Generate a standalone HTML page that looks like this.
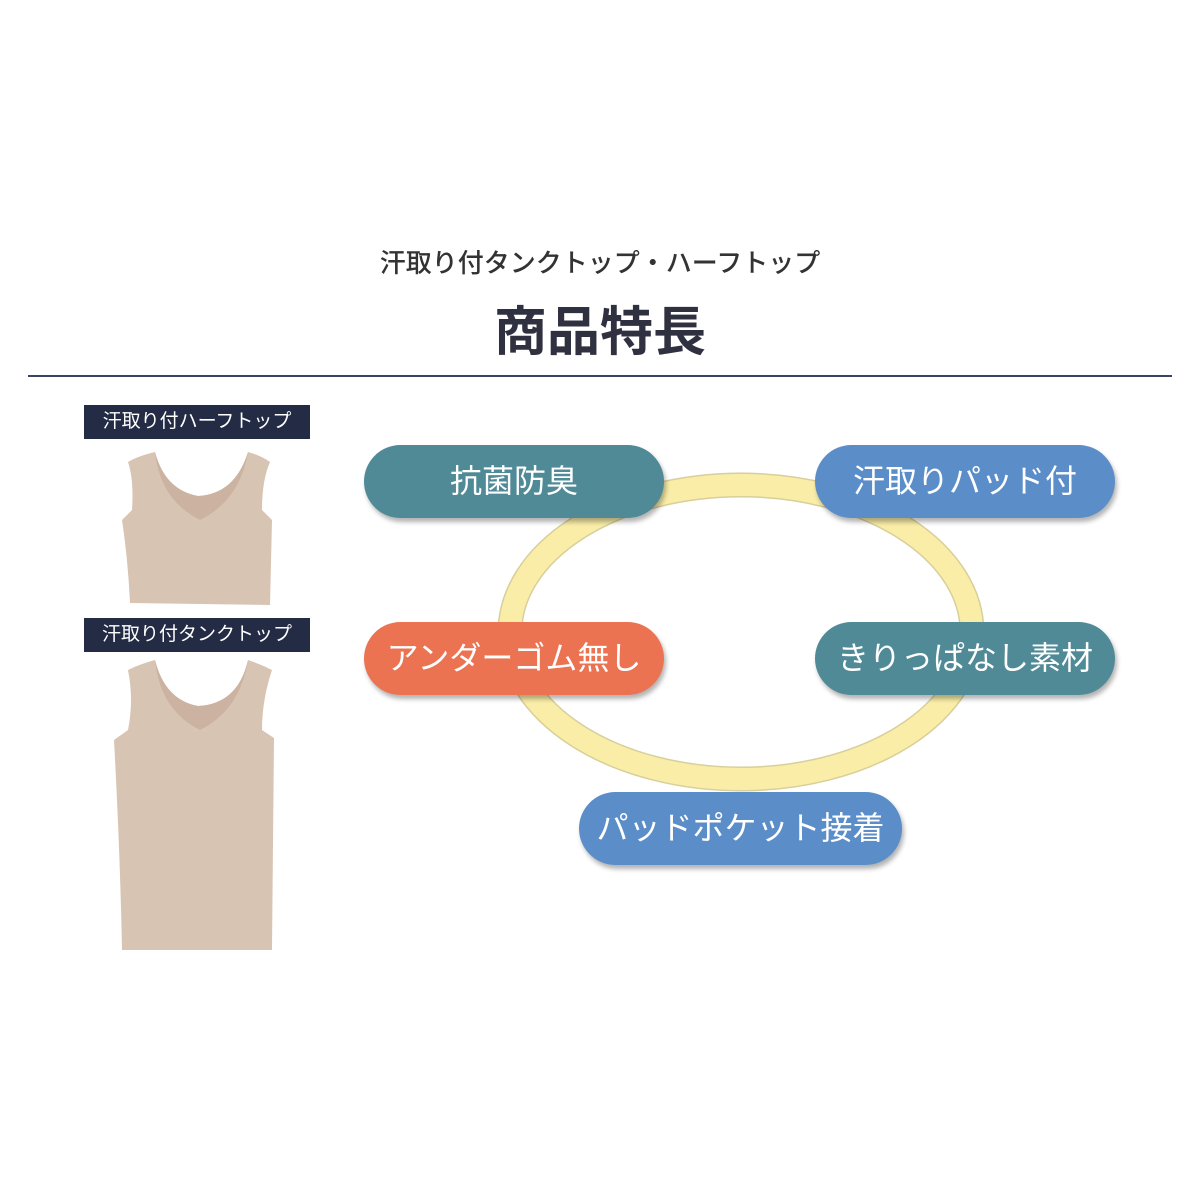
<!DOCTYPE html>
<html><head><meta charset="utf-8"><style>
body{margin:0;width:1200px;height:1200px;background:#fff;position:relative;overflow:hidden;font-family:"Liberation Sans","Noto Sans CJK JP",sans-serif;}
.a{position:absolute}
.sub{left:0;width:1200px;text-align:center;top:243px;font-size:26px;color:#333;font-weight:500}
.tt{left:0;width:1200px;text-align:center;top:290px;font-size:53px;font-weight:bold;color:#2f3140}
.line{left:28px;top:375px;width:1144px;height:2px;background:#3a4560}
.lab{background:#232c44;color:#fff;font-size:19px;height:34px;line-height:34px;width:226px;text-align:center;left:84px}
.pill{height:73px;border-radius:37px;color:#fff;font-size:32px;line-height:73px;text-align:center;box-shadow:2px 4px 5px rgba(0,0,0,.3)}
</style></head><body>
<div class="a sub">汗取り付タンクトップ・ハーフトップ</div>
<div class="a tt">商品特長</div>
<div class="a line"></div>
<div class="a lab" style="top:405px">汗取り付ハーフトップ</div>
<div class="a lab" style="top:618px">汗取り付タンクトップ</div>
<svg class="a" style="left:0;top:0" width="1200" height="1200">
<path d="M128 462 Q138 456 155 452 Q165 490 198 496 Q235 494 248 452 Q262 456 270 462 Q262 480 262 510 L272 520 L270 605 L130 603 Q128 560 122 520 L132 510 Q134 480 128 462Z" fill="#d8c4b3"/>
<path d="M155 452 Q165 490 198 496 Q235 494 248 452 Q240 500 200 520 Q160 500 155 452Z" fill="#ccb3a1"/>
<path d="M128 670 Q140 664 155 660 Q165 700 198 706 Q238 704 248 660 Q260 664 272 670 Q262 700 262 730 L274 738 L272 950 L122 950 Q120 850 114 740 L128 730 Q134 700 128 670Z" fill="#d8c4b3"/>
<path d="M155 660 Q165 700 198 706 Q238 704 248 660 Q240 710 200 730 Q160 710 155 660Z" fill="#ccb3a1"/>
<ellipse cx="741" cy="632" rx="231" ry="147" fill="none" stroke="#d8cf9a" stroke-width="25"/>
<ellipse cx="741" cy="632" rx="231" ry="147" fill="none" stroke="#f9eda8" stroke-width="22"/>
</svg>
<div class="a pill" style="left:364px;top:445px;width:300px;background:#4f8a96">抗菌防臭</div>
<div class="a pill" style="left:815px;top:445px;width:300px;background:#5b8ec9">汗取りパッド付</div>
<div class="a pill" style="left:364px;top:622px;width:300px;background:#ec7352">アンダーゴム無し</div>
<div class="a pill" style="left:815px;top:622px;width:300px;background:#4f8a96">きりっぱなし素材</div>
<div class="a pill" style="left:579px;top:792px;width:323px;background:#5b8ec9">パッドポケット接着</div>
</body></html>
